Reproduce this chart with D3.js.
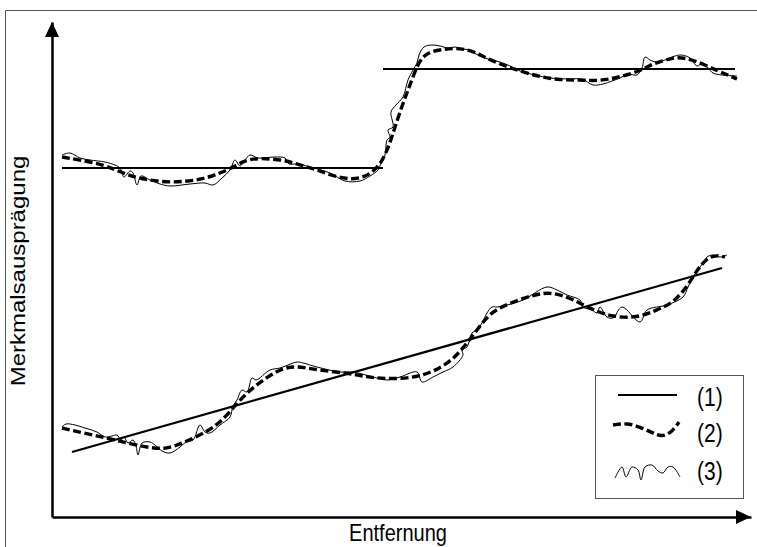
<!DOCTYPE html>
<html><head><meta charset="utf-8">
<script src="https://cdn.jsdelivr.net/npm/d3@7"></script>
<style>body{margin:0;background:#fff}svg{display:block}text{font-family:"Liberation Sans",Arial,sans-serif;fill:#000}</style>
</head><body>
<svg id="c" width="757" height="547"></svg>
<script>
// ---- data (distance units, feature units) ----
const line1Upper = [[{x:10,y:349},{x:331,y:349}],[{x:331,y:448},{x:683,y:448}]];
const line1Lower = [{x:20,y:65},{x:670,y:249}];
const smoothUpper = [[10,360],[28,357],[53,352],[68,345],[88,338],[118,334],[148,337],[163,342],[178,348],[193,357],[208,359],[233,357],[248,352],[263,348],[278,342],[298,337],[313,340],[323,347],[331,357],[338,374],[343,390],[351,414],[358,432],[366,454],[375,465],[393,468],[408,469],[423,465],[438,457],[461,448],[488,440],[508,437],[528,437],[548,436],[568,440],[588,446],[598,452],[613,457],[625,460],[638,458],[653,452],[666,446],[676,442],[685,438]];
const rawUpper = [[10,362],[18,364],[28,359],[38,357],[53,355],[63,352],[68,349],[72,340],[78,346],[81,344],[85,332],[89,341],[98,337],[108,333],[118,331],[138,333],[153,334],[161,332],[170,339],[178,347],[183,357],[188,351],[193,357],[198,362],[206,359],[223,360],[233,359],[237,353],[245,353],[258,350],[278,344],[293,336],[308,336],[318,341],[326,347],[329,354],[333,362],[335,377],[338,380],[336,387],[341,390],[339,405],[344,412],[351,420],[356,437],[361,447],[365,454],[367,462],[372,470],[380,472],[388,471],[396,469],[403,470],[410,468],[418,467],[424,463],[436,458],[448,455],[458,451],[468,446],[483,442],[498,439],[518,438],[530,438],[541,432],[551,433],[560,436],[568,439],[576,443],[585,442],[590,449],[593,460],[598,457],[604,455],[613,457],[620,460],[629,462],[638,459],[645,451],[651,454],[656,449],[661,444],[670,442],[685,441]];
const smoothLower = [[10,89],[31,84],[55,79],[75,74],[98,69],[115,68],[131,74],[155,85],[171,97],[185,114],[198,127],[215,140],[231,149],[245,151],[265,147],[295,144],[315,140],[335,138],[361,139],[381,145],[401,157],[415,174],[425,187],[438,204],[455,213],[481,222],[498,225],[515,220],[528,214],[541,207],[561,200],[585,199],[605,207],[621,214],[635,230],[645,247],[655,259],[665,262],[673,260]];
const rawLower = [[10,90],[14,93],[23,92],[33,89],[45,85],[53,80],[60,81],[65,82],[69,77],[72,80],[76,74],[81,77],[84,71],[86,62],[90,74],[98,75],[103,72],[110,66],[118,64],[128,70],[134,75],[141,77],[148,92],[153,85],[158,84],[168,92],[178,100],[181,111],[185,117],[190,127],[195,125],[200,139],[204,137],[218,147],[228,149],[245,155],[251,154],[265,150],[288,145],[301,145],[321,140],[335,137],[348,140],[365,145],[370,135],[381,140],[391,145],[401,150],[411,162],[410,167],[415,170],[420,184],[425,187],[430,194],[435,204],[440,210],[445,210],[455,212],[471,217],[495,230],[505,227],[515,222],[528,217],[531,210],[540,207],[545,204],[548,210],[555,200],[561,199],[570,210],[588,195],[595,207],[615,212],[631,220],[636,230],[641,240],[651,254],[655,260],[661,262],[668,260],[675,262]];
const legendLabels = ["(1)","(2)","(3)"];
const legendSolid = [[0,0],[59,0]];
const legendDashed = [[0,2],[14,0],[27,4],[40,10],[49,14],[59,9],[66,-1]];
const legendRaw = [[0,1],[7,-10],[11,0],[17,-10],[23,-7],[26,3],[30,-10],[37,-12],[43,-6],[48,-4],[53,-10],[58,-10],[65,0]];
const xTitle = "Entfernung", yTitle = "Merkmalsausprägung";

// ---- drawing ----
const svg = d3.select("#c");
const x = d3.scaleLinear().domain([0,699]).range([52,751]);
const y = d3.scaleLinear().domain([0,495]).range([517,22]);

// outer frame
svg.append("path").attr("d","M5.5,547V10.5H757").attr("fill","none").attr("stroke","#555").attr("stroke-width",1);

// axes (domain lines only)
const gx = svg.append("g").attr("transform","translate(0,517)")
  .call(d3.axisBottom(x).tickValues([]).tickSizeOuter(0));
const gy = svg.append("g").attr("transform","translate(52,0)")
  .call(d3.axisLeft(y).tickValues([]).tickSizeOuter(0));
[gx,gy].forEach(g=>g.select(".domain").attr("stroke","#000").attr("stroke-width",2.5));
// arrow heads
const xe = x.range()[1], ye = y.range()[1];
svg.append("path").attr("d",`M${xe},517L${xe-15},510L${xe-15},524Z`).attr("fill","#000");
svg.append("path").attr("d",`M52,${ye}L45,${ye+15}L59,${ye+15}Z`).attr("fill","#000");

const lineXY = d3.line().x(d=>x(d.x)).y(d=>y(d.y));
const rawLine = d3.line().x(d=>x(d[0])).y(d=>y(d[1])).curve(d3.curveCatmullRom.alpha(0.5));
const smLine = d3.line().x(d=>x(d[0])).y(d=>y(d[1])).curve(d3.curveBasis);

[rawUpper, rawLower].forEach(s=>svg.append("path").attr("d",rawLine(s)).attr("fill","none").attr("stroke","#000").attr("stroke-width",1));
[smoothUpper, smoothLower].forEach(s=>svg.append("path").attr("d",smLine(s)).attr("fill","none").attr("stroke","#000").attr("stroke-width",3.4).attr("stroke-dasharray","8,3.5"));
[...line1Upper, line1Lower].forEach(s=>svg.append("path").attr("d",lineXY(s)).attr("fill","none").attr("stroke","#000").attr("stroke-width",2.2));

// titles (source image is stretched vertically ~1.2)
svg.append("text").attr("transform","translate(398,541) scale(1,1.2)").attr("text-anchor","middle").attr("font-size",20).text(xTitle);
svg.append("text").attr("transform","translate(25,271) scale(1,1.2) rotate(-90)").attr("text-anchor","middle").attr("font-size",20).text(yTitle);

// legend
const lg = svg.append("g");
lg.append("rect").attr("x",595.5).attr("y",375.5).attr("width",148).attr("height",123).attr("fill","#fff").attr("stroke","#555").attr("stroke-width",1);
const ll = d3.line().x(d=>d[0]).y(d=>d[1]);
lg.append("path").attr("transform","translate(618,395)").attr("d",ll(legendSolid)).attr("stroke","#000").attr("stroke-width",2.2).attr("fill","none");
lg.append("path").attr("transform","translate(613,423)").attr("d",ll.curve(d3.curveBasis)(legendDashed)).attr("stroke","#000").attr("stroke-width",3.4).attr("stroke-dasharray","8,3.5").attr("fill","none");
lg.append("path").attr("transform","translate(615,477)").attr("d",d3.line().curve(d3.curveCatmullRom)(legendRaw)).attr("stroke","#000").attr("stroke-width",1).attr("fill","none");
const ly = [406,442,480];
legendLabels.forEach((t,i)=>lg.append("text").attr("transform",`translate(697,${ly[i]}) scale(1,1.2)`).attr("font-size",21).text(t));
</script>
</body></html>
